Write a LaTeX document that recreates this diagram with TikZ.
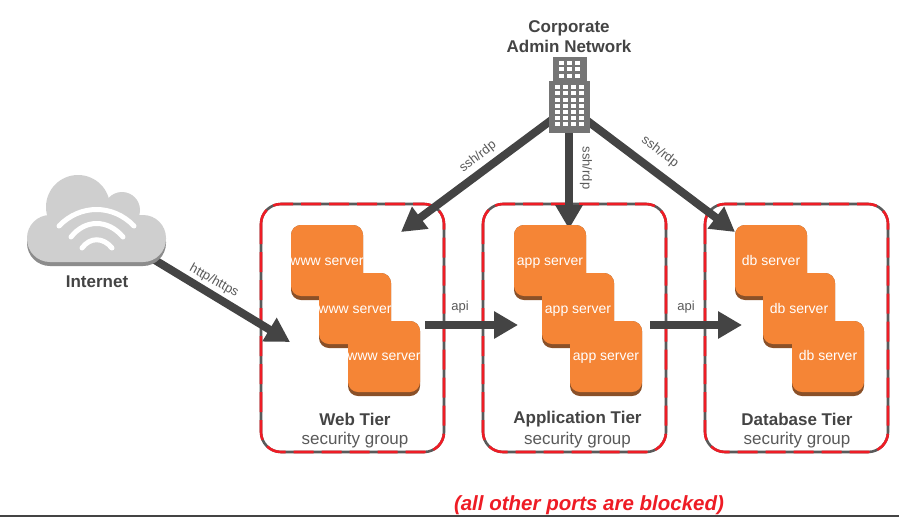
\documentclass[tikz,border=0pt]{standalone}
\usepackage{fontspec}
\setmainfont{Liberation Sans}
\usetikzlibrary{arrows.meta}
\definecolor{ink}{HTML}{444444}
\definecolor{soft}{HTML}{5A5A5A}
\definecolor{orng}{HTML}{F58536}
\definecolor{orngd}{HTML}{8A5028}
\definecolor{cloudc}{HTML}{CFCFCF}
\definecolor{cloudd}{HTML}{8C8C8C}
\definecolor{bldc}{HTML}{757575}
\definecolor{redb}{HTML}{EE1C25}
\tikzset{
  flow/.style={draw=ink,line width=8pt,-{Triangle[length=24pt,width=26pt]}},
  srv/.style={fill=orng,rounded corners=10pt},
  srvs/.style={fill=orngd,rounded corners=10pt},
  srvtext/.style={text=white,font=\fontsize{14}{15}\selectfont,inner sep=0pt,anchor=base},
  tierbox/.style={draw=soft,line width=2.6pt,rounded corners=20pt},
  tierred/.style={draw=redb,line width=2.6pt,rounded corners=20pt,dash pattern=on 20pt off 8pt},
  tiername/.style={text=ink,font=\bfseries\fontsize{17}{18}\selectfont,inner sep=0pt},
  tiersub/.style={text=soft,font=\fontsize{17}{18}\selectfont,inner sep=0pt},
  toplabel/.style={text=ink,font=\bfseries\fontsize{17}{20}\selectfont,inner sep=0pt,align=center},
  edgelabel/.style={text=soft,font=\fontsize{13}{14}\selectfont,inner sep=0pt},
  wifi/.style={draw=white,line width=5pt,line cap=round}
}
\newcommand{\tierpanel}[1]{%
  \draw[tierbox] (#1,204) rectangle (#1+183,452);
  \draw[tierred] (#1,204) rectangle (#1+183,452);
}
\newcommand{\srvshadow}[2]{\fill[srvs] (#1,#2) rectangle (#1+72,#2+75);}
\newcommand{\srvface}[2]{\fill[srv] (#1,#2) rectangle (#1+72,#2+71);}
\begin{document}
\begin{tikzpicture}[x=1pt,y=-1pt]
\useasboundingbox (0,0) rectangle (899,517);
\fill[white] (0,0) rectangle (899,517);
\draw[ink,line width=1.5pt] (0,516.2) -- (899,516.2);

% tier boxes
\tierpanel{261}
\tierpanel{483}
\tierpanel{705}

% connector ends
\node[inner sep=0pt,minimum size=1pt] (bld) at (569,107) {};
\node[inner sep=0pt,minimum size=1pt] (cloud) at (97,225) {};
\coordinate (webin) at (290,342);
\coordinate (webtop) at (401,232);
\coordinate (apptop) at (569,229);
\coordinate (dbtop) at (735,232);
\coordinate (webout) at (425,325);
\coordinate (appin) at (518,325);
\coordinate (appout) at (650,325);
\coordinate (dbin) at (742,325);

% connectors
\draw[flow] (cloud.center) -- (webin);
\draw[flow] (bld.center) -- (webtop);
\draw[flow] (bld.center) -- (apptop);
\draw[flow] (bld.center) -- (dbtop);
\draw[flow] (webout) -- (appin);
\draw[flow] (appout) -- (dbin);

% connector labels
\node[edgelabel,rotate=-29] (l1) at (214,281) {http/https};
\node[edgelabel,rotate=38] (l2) at (478,157) {ssh/rdp};
\node[edgelabel,rotate=-90] (l3) at (586,168) {ssh/rdp};
\node[edgelabel,rotate=-37] (l4) at (660,152) {ssh/rdp};
\node[edgelabel] (l5) at (460,307) {api};
\node[edgelabel] (l6) at (686,307) {api};

% servers: all shadows first, then all faces
\foreach \a/\b in {291/225,319/273,348/321,514/225,542/273,570/321,735/225,763/273,792/321}
  {\srvshadow{\a}{\b}}
\foreach \a/\b in {291/225,319/273,348/321,514/225,542/273,570/321,735/225,763/273,792/321}
  {\srvface{\a}{\b}}
\node[srvtext] (w1) at (327,265) {www server};
\node[srvtext] (w2) at (355,313.5) {www server};
\node[srvtext] (w3) at (384,360.5) {www server};
\node[srvtext] (a1) at (550,265) {app server};
\node[srvtext] (a2) at (578,313.5) {app server};
\node[srvtext] (a3) at (606,360.5) {app server};
\node[srvtext] (d1) at (771,265) {db server};
\node[srvtext] (d2) at (799,313.5) {db server};
\node[srvtext] (d3) at (828,360.5) {db server};

% tier captions
\node[tiername] (t1) at (355,419) {Web Tier};
\node[tiersub] (s1) at (355,440.5) {security group};
\node[tiername] (t2) at (577.5,419) {Application Tier};
\node[tiersub] (s2) at (577.5,440.5) {security group};
\node[tiername] (t3) at (797,419) {Database Tier};
\node[tiersub] (s3) at (797,440.5) {security group};

% cloud
\fill[cloudd,rounded corners=23pt] (27,219) rectangle (166,266);
\fill[cloudc,rounded corners=23pt] (27,215) rectangle (166,262);
\fill[cloudc] (78,207) circle[radius=32];
\fill[cloudc] (122,210) circle[radius=18];
\draw[wifi] (59,226) .. controls (80,204) and (113,204) .. (134,226);
\draw[wifi] (71,237) .. controls (85,219) and (108,219) .. (123,237);
\draw[wifi] (82,248) .. controls (90,237) and (103,237) .. (112,248);
\node[toplabel] (inet) at (97,282) {Internet};

% building
\fill[bldc] (553,57) rectangle (587,81);
\fill[bldc] (549,81) rectangle (590,133);
\foreach \px in {561.5,569.5,577.5} \foreach \py in {62.7,69.3,76}
  \fill[white] (\px-2.5,\py-2) rectangle (\px+2.5,\py+2);
\foreach \px in {557,565,573,581} \foreach \py in {87.3,93.4,99.5,105.6,111.7,117.8,124}
  \fill[white] (\px-2.5,\py-2) rectangle (\px+2.5,\py+2);
\node[toplabel] (corp) at (569,37) {Corporate\\Admin Network};

% footer
\node[text=redb,font=\bfseries\itshape\fontsize{20.5}{22}\selectfont,inner sep=0pt] (note) at (589,505) {(all other ports are blocked)};
\end{tikzpicture}
\end{document}
